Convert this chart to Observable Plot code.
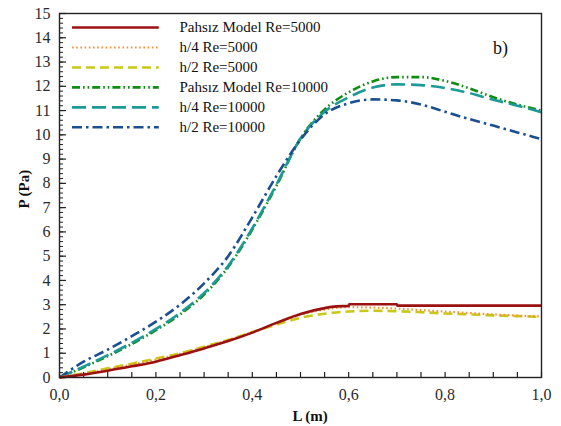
<!DOCTYPE html>
<html>
<head>
<meta charset="utf-8">
<script src="https://cdn.jsdelivr.net/npm/d3@7"></script>
<script src="https://cdn.jsdelivr.net/npm/@observablehq/plot@0.6"></script>
<style>
  html, body { margin: 0; padding: 0; background: #fff; }
  #chart { width: 561px; height: 426px; }
  #chart svg, #chart svg text { font-family: "Liberation Serif", "Times New Roman", serif !important; }
</style>
</head>
<body>
<div id="chart"></div>
<script>
// ---- data ----
const L = [0, 0.05, 0.1, 0.15, 0.2, 0.25, 0.3, 0.35, 0.4, 0.45, 0.5, 0.55, 0.6, 0.65, 0.7, 0.75, 0.8, 0.85, 0.9, 0.95, 1.0];

const redL = [0, 0.05, 0.1, 0.15, 0.2, 0.25, 0.3, 0.35, 0.4, 0.45, 0.5, 0.55, 0.575, 0.6, 0.601, 0.7, 0.701, 0.8, 0.9, 1.0];
const redP = [0, 0.12, 0.28, 0.46, 0.65, 0.92, 1.2, 1.5, 1.85, 2.25, 2.62, 2.86, 2.93, 2.95, 3.02, 3.02, 2.96, 2.96, 2.96, 2.96];

const orangeP = [0, 0.15, 0.34, 0.53, 0.73, 0.98, 1.25, 1.54, 1.87, 2.24, 2.58, 2.8, 2.9, 2.88, 2.84, 2.78, 2.72, 2.66, 2.6, 2.55, 2.52];
const yellowP = [0, 0.18, 0.38, 0.57, 0.78, 1.0, 1.27, 1.55, 1.87, 2.18, 2.46, 2.63, 2.72, 2.75, 2.73, 2.69, 2.64, 2.6, 2.56, 2.53, 2.5];
const greenP = [0, 0.42, 0.88, 1.38, 1.95, 2.6, 3.42, 4.55, 6.1, 7.9, 9.85, 11.05, 11.75, 12.2, 12.38, 12.38, 12.22, 11.92, 11.55, 11.25, 11.0];
const tealP = [0, 0.45, 0.92, 1.43, 2.0, 2.66, 3.48, 4.6, 6.15, 7.95, 9.85, 10.95, 11.55, 11.95, 12.08, 12.05, 11.93, 11.72, 11.45, 11.2, 10.93];
const blueP = [0, 0.65, 1.15, 1.7, 2.3, 3.0, 3.88, 5.0, 6.6, 8.3, 9.8, 10.85, 11.3, 11.46, 11.42, 11.25, 10.95, 10.65, 10.38, 10.1, 9.82];

const seriesNames = ["Pahsız Model Re=5000", "h/4 Re=5000", "h/2 Re=5000", "Pahsız Model Re=10000", "h/4 Re=10000", "h/2 Re=10000"];
const xTicks = [0, 0.2, 0.4, 0.6, 0.8, 1.0];
const yTicks = d3.range(0, 16, 1);
const xMinorTicks = d3.range(0, 1.0001, 0.05);
const yMinorTicks = d3.range(0, 15.0001, 0.2);
const panelLabel = "b)";

// ---- styles ----
const styles = [
  {stroke: "#9b1111", dash: null, width: 2.6},
  {stroke: "#f7923a", dash: "1.6,2.6", width: 2.2},
  {stroke: "#c8c818", dash: "9,5", width: 2.6},
  {stroke: "#0f8c12", dash: "8,3,1.6,3,1.6,3", width: 2.6},
  {stroke: "#1d9a96", dash: "14,6", width: 2.6},
  {stroke: "#1c4f8f", dash: "10,4,2.5,4", width: 2.6}
];

const toRows = (xs, ys) => xs.map((x, i) => ({L: x, P: ys[i]}));
const seriesData = [
  toRows(redL, redP),
  toRows(L, orangeP),
  toRows(L, yellowP),
  toRows(L, greenP),
  toRows(L, tealP),
  toRows(L, blueP)
];

const W = 561, H = 426;
const M = {top: 13, right: 20, bottom: 49, left: 59};
const plotW = W - M.left - M.right;
const plotH = H - M.top - M.bottom;
const font = "Liberation Serif, Times New Roman, serif";

// legend layout (in data units)
const legTop = 14.42, legStep = 0.822, legX1 = 0.027, legX2 = 0.207, legTextX = 0.249;

const drawOrder = [3, 4, 5, 2, 1, 0];
const lineMarks = drawOrder.map(i => Plot.line(seriesData[i], {
  x: "L", y: "P", stroke: styles[i].stroke, strokeWidth: styles[i].width,
  strokeDasharray: styles[i].dash, curve: "monotone-x", strokeLinecap: "butt"
}));

const legendMarks = seriesNames.flatMap((name, i) => [
  Plot.ruleY([legTop - i * legStep], {
    x1: legX1, x2: legX2, stroke: styles[i].stroke, strokeWidth: styles[i].width,
    strokeDasharray: styles[i].dash
  }),
  Plot.text([name], {
    x: legTextX, y: legTop - i * legStep, text: d => d, textAnchor: "start",
    fontSize: 15, fill: "#111", fontFamily: font
  })
]);

const fmt = d => d.toFixed(1).replace(".", ",");

const chart = Plot.plot({
  width: W, height: H,
  marginTop: M.top, marginRight: M.right, marginBottom: M.bottom, marginLeft: M.left,
  style: {fontFamily: font, fontSize: "16px", color: "#222", background: "#fff"},
  x: {domain: [0, 1], axis: null},
  y: {domain: [0, 15], axis: null},
  marks: [
    // minor / major inward ticks
    Plot.tickY(yMinorTicks, {y: d => d, insetRight: plotW - 4, stroke: "#222", strokeWidth: 1}),
    Plot.tickY(yTicks, {y: d => d, insetRight: plotW - 7, stroke: "#222", strokeWidth: 1.2}),
    Plot.tickX(xMinorTicks, {x: d => d, insetTop: plotH - 5, stroke: "#222", strokeWidth: 1.2}),
    Plot.axisY({ticks: yTicks, tickSize: 0, tickPadding: 9, tickFormat: d => String(d), fontSize: 16, fill: "#2a2a2a", label: null, fontFamily: font}),
    Plot.axisX({ticks: xTicks, tickSize: 0, tickPadding: 11, tickFormat: fmt, fontSize: 16, fill: "#2a2a2a", label: null, fontFamily: font}),
    ...lineMarks,
    Plot.frame({stroke: "#222", strokeWidth: 1.4}),
    ...legendMarks,
    Plot.text([panelLabel], {x: 0.915, y: 13.55, text: d => d, fontSize: 18, fill: "#111", fontFamily: font}),
    Plot.text(["L (m)"], {x: 0.52, y: 0, dy: 33, text: d => d, fontSize: 15, fontWeight: "bold", fill: "#111", fontFamily: font, lineAnchor: "top"}),
    Plot.text(["P (Pa)"], {frameAnchor: "left", dx: -35, dy: 13, text: d => d, rotate: -90, fontSize: 15, fontWeight: "bold", fill: "#111", fontFamily: font})
  ]
});

document.getElementById("chart").appendChild(chart);
</script>
</body>
</html>
